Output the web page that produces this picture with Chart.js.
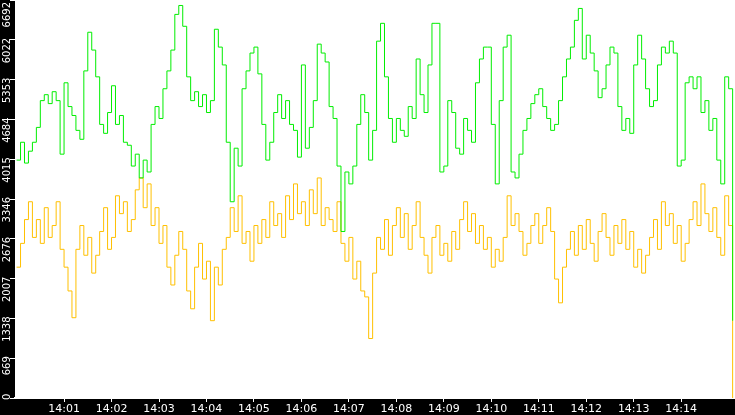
<!DOCTYPE html>
<html><head><meta charset="utf-8">
<script src="https://cdn.jsdelivr.net/npm/chart.js@4"></script>
<style>html,body{margin:0;padding:0;background:#000}#w{width:735px;height:415px}</style>
</head><body><div id="w"><canvas id="c"></canvas></div>
<script>
const sampleStepSeconds = 5;
const yTickValues = [0, 669, 1338, 2007, 2676, 3346, 4015, 4684, 5353, 6022, 6692];
const xTickSeconds = [60,120,180,240,300,360,420,480,540,600,660,720,780,840];
const xTickLabels = ['14:01','14:02','14:03','14:04','14:05','14:06','14:07','14:08','14:09','14:10','14:11','14:12','14:13','14:14'];
const greenValues = [4000,4300,3950,4150,4300,4550,5000,5100,4950,5150,5000,4100,5300,4900,4750,4500,4350,5500,6150,5850,
5400,4600,4450,4800,5250,4600,4750,4300,4250,3900,4100,3700,4000,3800,4600,4900,4700,5200,5500,5850,
6450,6600,6250,5400,5000,5150,4900,5100,4800,5000,6200,5900,5600,4300,3300,4200,3900,5200,5500,5800,
5900,5450,4600,4000,4300,4800,5100,4700,5000,4600,4500,4050,5600,4200,4550,5000,5950,5800,5650,4900,
4700,3900,2800,3800,3600,3900,4600,5100,4800,4000,4500,6000,6300,5400,4700,4300,4700,4500,4400,4900,
4700,5700,5100,4800,5600,6300,6300,3800,3900,5000,4800,4200,4100,4700,4500,4300,5300,5700,5900,5900,
4600,3600,5000,5900,6100,3800,3700,4100,4500,4700,4950,5100,5200,4900,4700,4500,4600,5000,5400,5700,
5900,6350,6550,5700,6100,5800,5500,5050,5200,5600,5900,5800,4900,4500,4700,4450,5600,6100,5700,5200,
4900,5000,5600,5900,5800,6000,5800,3900,4000,5300,5400,5200,5400,4800,5000,4500,4700,4000,3600,5400,
5200,1300];
const yellowValues = [2200,2600,3000,3300,2700,3000,2600,3200,2700,2900,3300,2500,2200,1800,1350,2500,2900,2400,2700,2100,
2400,2800,3200,2500,2700,3400,3100,3300,2800,3000,3500,3700,3200,3600,2900,3200,2600,2900,2200,1900,
2400,2800,2500,1800,1500,2200,2600,2000,2300,1300,2200,1900,2500,2700,3200,2800,3400,2600,2800,2300,
2900,2600,3000,2700,3300,2900,3100,2700,3400,3000,3600,3100,3300,2900,3500,3100,3700,2900,3200,3000,
2800,3300,2600,2300,2700,2000,2300,1800,1700,1000,2100,2700,2500,3000,2400,2900,3200,2700,3100,2500,
2900,3300,2700,2400,2100,2700,2900,2400,2600,2300,2800,2500,3000,3300,2800,3100,2600,2900,2500,2700,
2200,2500,2300,2700,3400,2900,3100,2800,2400,2600,2900,3100,2600,2900,3200,2800,2000,1600,2200,2500,
2800,2400,2900,2500,3000,2600,2300,2800,3100,2700,2400,2900,2600,3000,2500,2800,2200,2500,2100,2400,
2700,3000,2500,3300,2900,3100,2600,2900,2300,2600,3000,3300,2900,3600,3100,2800,3200,2700,2400,3400,
2900,0];

const toPts = vals => vals.map((v,i)=>({x:i*sampleStepSeconds, y:v}));

const bgPlugin = {
  id:'bg',
  beforeDraw(ch){
    const {ctx, chartArea:a} = ch;
    ctx.save();
    ctx.fillStyle='#000'; ctx.fillRect(0,0,ch.width,ch.height);
    ctx.fillStyle='#fff'; ctx.fillRect(a.left,a.top,a.right-a.left,a.bottom-a.top);
    ctx.restore();
  },
  afterDraw(ch){
    const {ctx} = ch; const ys = ch.scales.y;
    ctx.save();
    ctx.fillStyle='#fff'; ctx.font='10px "DejaVu Sans"'; ctx.textBaseline='middle'; ctx.textAlign='right';
    yTickValues.forEach(v=>{
      const w = ctx.measureText(String(v)).width;
      let py = ys.getPixelForValue(v) - 2;
      py = Math.max(2, Math.min(ch.chartArea.bottom + 2 - w, py));
      ctx.save(); ctx.translate(7, py); ctx.rotate(-Math.PI/2);
      ctx.fillText(String(v),0,0); ctx.restore();
    });
    ctx.restore();
  }
};

new Chart(document.getElementById('c'),{
  type:'line',
  data:{datasets:[
    {data:toPts(greenValues), borderColor:'#00ee00', borderWidth:1, pointRadius:0, stepped:true},
    {data:toPts(yellowValues), borderColor:'#ffc000', borderWidth:1, pointRadius:0, stepped:true}
  ]},
  options:{
    responsive:true, maintainAspectRatio:false, animation:false,
    layout:{padding:0},
    plugins:{legend:{display:false}, tooltip:{enabled:false}},
    scales:{
      x:{type:'linear', min:-2, max:908,
        afterBuildTicks(s){ s.ticks = xTickSeconds.map(v=>({value:v})); },
        afterFit(s){ s.height = 17; },
        ticks:{color:'#fff', font:{family:'DejaVu Sans', size:11}, padding:1, maxRotation:0, autoSkip:false,
          callback:(v)=>xTickLabels[xTickSeconds.indexOf(v)]},
        grid:{drawOnChartArea:false, color:'#fff', tickLength:4},
        border:{color:'#fff', width:2}},
      y:{min:0, max:6692,
        afterBuildTicks(s){ s.ticks = yTickValues.map(v=>({value:v})); },
        afterFit(s){ s.width = 15; },
        ticks:{display:false},
        grid:{drawOnChartArea:false, color:'#fff', tickLength:5},
        border:{color:'#fff', width:1}}
    }
  },
  plugins:[bgPlugin]
});
</script></body></html>
